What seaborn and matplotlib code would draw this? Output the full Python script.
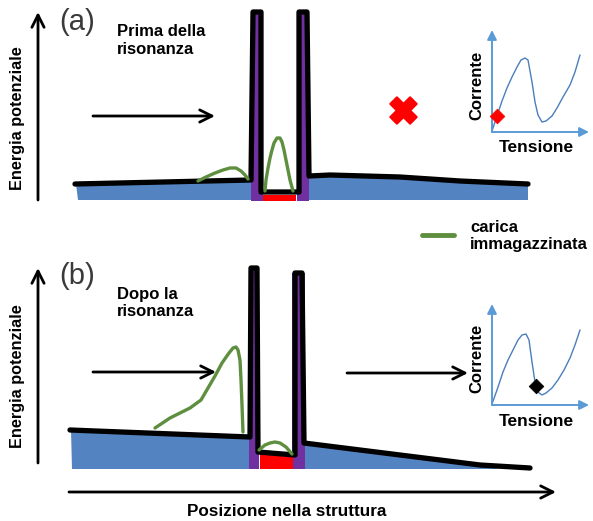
import numpy as np
import pandas as pd
import seaborn as sns
import matplotlib.pyplot as plt
from matplotlib.patches import Polygon

sns.set_theme(style="white")
plt.rcParams['font.family'] = ['Liberation Sans', 'DejaVu Sans']
plt.rcParams['text.color'] = 'black'

BLUE = "#5383c1"
PURPLE = "#7030a0"
RED = "#ff0000"
GREEN = "#5e8f3e"
AXBLUE = "#5b9bd5"
CURVE = "#4a7ebb"

# profilo di potenziale (coordinate in pixel del disegno)
prof_a_x = [75, 251, 253, 261, 261, 299, 299, 307, 309, 330, 400, 460, 528]
prof_a_y = [184, 180, 12, 12, 192, 192, 12, 12, 176, 175, 177, 181, 184]
prof_b_x = [70, 250, 251, 257, 258, 295, 295, 302, 304, 480, 530]
prof_b_y = [430, 437, 268, 268, 452, 455, 273, 273, 443, 465, 468]

# zone colorate
blu_a = [[(76, 184), (251, 180), (251, 200), (78, 200)],
         [(309, 176), (330, 175), (400, 177), (460, 181), (528, 184), (528, 200), (309, 200)]]
blu_b = [[(71, 430), (249, 437), (249, 469), (72, 469)],
         [(304, 443), (480, 465), (500, 469), (304, 469)]]
viola_a = [[(251, 12), (263, 12), (263, 201), (251, 201)],
           [(297, 12), (309, 12), (309, 201), (297, 201)]]
viola_b = [[(249, 268), (259, 268), (259, 469), (249, 469)],
           [(292, 273), (305, 273), (305, 469), (292, 469)]]
rosso_a = [(263, 195), (296, 195), (296, 201), (263, 201)]
rosso_b = [(260, 454), (293, 457), (293, 469), (260, 469)]

# carica immagazzinata
verde_a1_x = [198, 206, 215, 223, 230, 236, 241, 245, 248]
verde_a1_y = [181, 177, 173, 170, 168, 168, 171, 175, 179]
verde_a2_x = [265, 266, 268, 270, 272, 274, 277, 280, 282, 284, 286, 288, 290, 293]
verde_a2_y = [191, 180, 168, 158, 150, 143, 138, 138, 142, 150, 160, 170, 180, 191]
verde_b1_x = [155, 170, 190, 201, 208, 215, 222, 229, 233, 236, 238, 240, 241, 242, 243]
verde_b1_y = [428, 418, 408, 400, 388, 376, 363, 353, 348, 347, 350, 360, 380, 405, 432]
verde_b2_x = [259, 265, 270, 275, 280, 286, 292]
verde_b2_y = [450, 445, 443, 442, 443, 447, 454]

# curve corrente-tensione
iv_a_x = [492, 497, 502, 507, 512, 517, 521, 525, 528, 532, 535, 538, 542, 546, 552, 557, 563, 570, 575, 580]
iv_a_y = [131, 116, 101, 88, 77, 67, 60, 58, 60, 82, 102, 115, 122, 121, 116, 108, 97, 85, 72, 55]
iv_b_x = [492, 497, 503, 508, 513, 518, 522, 526, 529, 532, 535, 538, 542, 546, 552, 558, 564, 570, 575, 580]
iv_b_y = [404, 390, 372, 360, 350, 340, 335, 334, 340, 362, 382, 392, 395, 393, 388, 380, 370, 358, 345, 330]

fig = plt.figure(figsize=(5.93, 5.21), dpi=100)
ax = fig.add_axes([0, 0, 1, 1])

for poly in blu_a + blu_b:
    ax.add_patch(Polygon(poly, closed=True, color=BLUE, lw=0))
for poly in viola_a + viola_b:
    ax.add_patch(Polygon(poly, closed=True, color=PURPLE, lw=0))
ax.add_patch(Polygon(rosso_a, closed=True, color=RED, lw=0))
ax.add_patch(Polygon(rosso_b, closed=True, color=RED, lw=0))

for px, py in [(prof_a_x, prof_a_y), (prof_b_x, prof_b_y)]:
    sns.lineplot(x=px, y=py, sort=False, estimator=None, color="black", linewidth=3.8,
                 solid_joinstyle="round", solid_capstyle="round", ax=ax)

for gx, gy in [(verde_a1_x, verde_a1_y), (verde_a2_x, verde_a2_y),
               (verde_b1_x, verde_b1_y), (verde_b2_x, verde_b2_y)]:
    sns.lineplot(x=gx, y=gy, sort=False, estimator=None, color=GREEN, linewidth=2.4,
                 solid_capstyle="round", ax=ax)

# frecce nere
frecce = [((38, 200), (38, 12)), ((38, 463), (38, 268)), ((69, 492), (556, 492)),
          ((93, 116), (215, 116)), ((93, 372), (216, 372)), ((347, 373), (468, 373))]
for start, end in frecce:
    ax.annotate("", xy=end, xytext=start,
                arrowprops=dict(arrowstyle="->", lw=2.0, color="black", mutation_scale=22,
                                shrinkA=0, shrinkB=0))

# inserti corrente-tensione
for (ox, oy, top), (ix, iy), (mx, my, mc) in [((492, 132, 30), (iv_a_x, iv_a_y), (497, 116, RED)),
                                               ((492, 405, 304), (iv_b_x, iv_b_y), (536, 386, "black"))]:
    ax.annotate("", xy=(ox, top), xytext=(ox, oy),
                arrowprops=dict(arrowstyle="-|>", lw=1.4, color=AXBLUE, mutation_scale=14,
                                shrinkA=0, shrinkB=0))
    ax.annotate("", xy=(ox + 97, oy), xytext=(ox, oy),
                arrowprops=dict(arrowstyle="-|>", lw=1.4, color=AXBLUE, mutation_scale=14,
                                shrinkA=0, shrinkB=0))
    sns.lineplot(x=ix, y=iy, sort=False, estimator=None, color=CURVE, linewidth=1.0, ax=ax)
    sns.scatterplot(x=[mx], y=[my], marker="D", s=55, color=mc, edgecolor=mc, ax=ax, zorder=5)
    ax.text(477, (oy + top) / 2 + 4, "Corrente", rotation=90, ha="center", va="center",
            fontsize=12, fontweight="bold")
    ax.text(536, oy + 16, "Tensione", ha="center", va="center",
            fontsize=12.5, fontweight="bold")

# croce rossa
sns.scatterplot(x=[403], y=[110], marker="X", s=360, color=RED, edgecolor=RED, ax=ax)

# legenda
sns.lineplot(x=[422, 454], y=[235, 235], color=GREEN, linewidth=3.5, ax=ax)
ax.text(470, 236, "carica\nimmagazzinata", ha="left", va="center", fontsize=12,
        fontweight="bold", linespacing=1.1)

# testi
for yc in [118, 376]:
    ax.text(18, yc, "Energia potenziale", rotation=90, ha="center", va="center",
            fontsize=11.7, fontweight="bold")
ax.text(77, 22, "(a)", ha="center", va="center", fontsize=21, color="#3a3a3a")
ax.text(77, 276, "(b)", ha="center", va="center", fontsize=21, color="#3a3a3a")
ax.text(117, 41, "Prima della\nrisonanza", ha="left", va="center", fontsize=12,
        fontweight="bold", linespacing=1.25)
ax.text(117, 303, "Dopo la\nrisonanza", ha="left", va="center", fontsize=12,
        fontweight="bold", linespacing=1.25)
ax.text(287, 511, "Posizione nella struttura", ha="center", va="center", fontsize=12.3,
        fontweight="bold")

ax.set_xlim(0, 593)
ax.set_ylim(521, 0)
ax.axis("off")
fig.savefig("out.png", dpi=100)
